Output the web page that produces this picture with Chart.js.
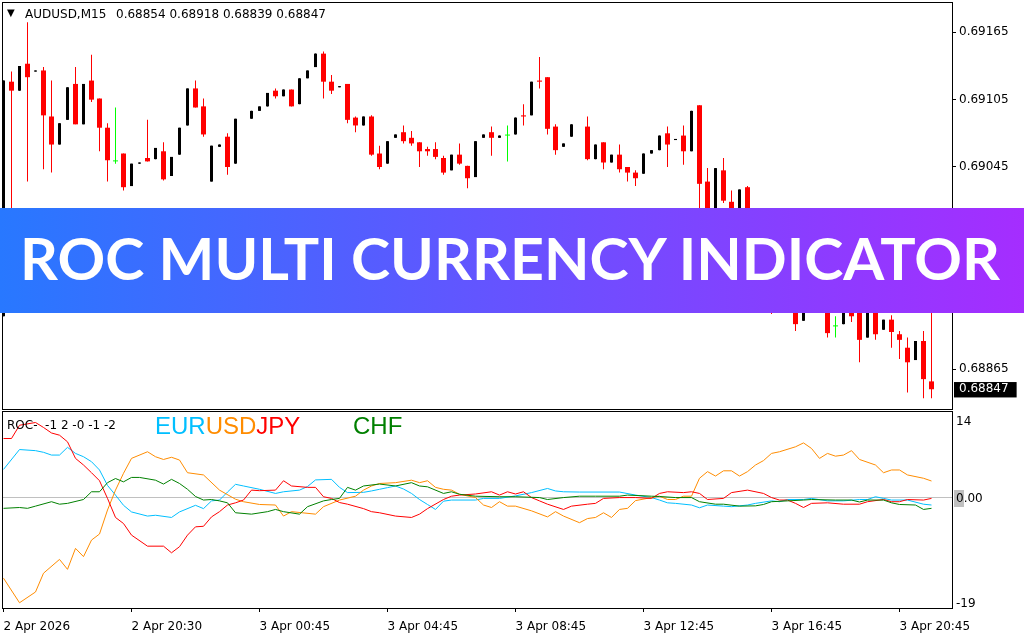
<!DOCTYPE html>
<html>
<head>
<meta charset="utf-8">
<script src="https://cdn.jsdelivr.net/npm/chart.js@4.4.1/dist/chart.umd.min.js"></script>
<style>
  html, body { margin:0; padding:0; background:#fff; }
  #wrap { position:relative; width:1024px; height:640px; overflow:hidden; background:#fff; }
  #main { position:absolute; left:0; top:0; }
  #sub { position:absolute; left:0; top:410px; }
  .txt { position:absolute; font-family:"DejaVu Sans", sans-serif; font-size:12px; line-height:14px; color:#000; white-space:pre; }
  .big { position:absolute; font-family:"Liberation Sans", Arial, sans-serif; font-size:24px; line-height:24px; white-space:pre; }
  #banner { position:absolute; left:0; top:208px; width:1024px; height:105px; background:linear-gradient(90deg,#2878FF 0%,#A52DFF 100%); z-index:10; overflow:hidden; }
  #btext { position:absolute; left:20px; top:21px; font-family:Lato, "Open Sans", sans-serif; font-weight:700; font-size:58px; line-height:58px; color:#fff; white-space:nowrap; transform-origin:0 0; }
</style>
</head>
<body>
<div id="wrap">
  <canvas id="main" width="1024" height="410"></canvas>
  <canvas id="sub" width="1024" height="230"></canvas>
  <div class="txt" style="left:7px;top:6px;font-size:10px;">▼</div>
  <div class="txt" id="sym" style="left:25px;top:7px;">AUDUSD,M15</div>
  <div class="txt" id="ohlc" style="left:116px;top:7px;"></div>
  <div class="txt" style="left:7px;top:418px;">ROC-  -1 2 -0 -1 -2</div>
  <div class="big" style="left:155px;top:414px;"><span style="color:#00BFFF">EUR</span><span style="color:#FF8C00">USD</span><span style="color:#FF0000">JPY</span></div>
  <div class="big" style="left:353px;top:414px;color:#008000">CHF</div>
  <div id="banner"><span id="btext">ROC MULTI CURRENCY INDICATOR</span></div>
</div>
<script>
// ---------------- DATA ----------------
const CANDLE_OPEN = [
 0.68912,0.69121,0.69113,0.69137,0.69130,0.69131,0.69090,0.69065,0.69087,0.69119,
 0.69083,0.69122,0.69106,0.69080,0.69050,0.69057,0.69028,0.69048,0.69053,0.69052,
 0.69059,0.69037,0.69056,0.69082,0.69115,0.69099,0.69032,0.69063,0.69072,0.69048,
 null,0.69088,0.69095,0.69099,0.69113,0.69108,0.69114,0.69101,0.69124,0.69134,
 0.69146,0.69121,0.69116,0.69119,0.69089,0.69082,0.69090,0.69057,0.69048,0.69071,
 0.69076,0.69071,0.69067,0.69061,0.69061,0.69053,0.69042,0.69056,0.69046,0.69036,
 0.69071,0.69076,0.69071,0.69073,0.69074,0.69091,0.69091,0.69122,0.69125,0.69081,
 0.69063,0.69072,null,0.69081,0.69052,0.69067,0.69049,0.69056,0.69045,0.69040,
 0.69039,0.69057,0.69060,0.69075,0.69069,0.69073,0.69059,0.69100,0.69032,0.68998,
 0.69042,0.69014,0.68986,0.69027,0.68975,0.68955,0.68968,0.68928,0.68950,0.68930,
 0.68908,0.68928,0.68918,0.68930,0.68903,0.68905,0.68925,0.68920,0.68893,0.68920,
 0.68900,0.68909,0.68896,0.68884,0.68873,0.68890,0.68854];
const CANDLE_HIGH = [
 0.69122,0.69130,0.69135,0.69174,0.69131,0.69134,0.69122,0.69084,0.69116,0.69134,
 0.69119,0.69145,0.69106,0.69084,0.69098,0.69057,0.69048,0.69049,0.69087,0.69062,
 0.69067,0.69054,0.69080,0.69115,0.69122,0.69106,0.69064,0.69065,0.69075,0.69088,
 null,0.69095,0.69099,0.69111,0.69115,0.69114,0.69114,0.69124,0.69131,0.69146,
 0.69148,0.69127,0.69117,0.69119,0.69090,0.69090,0.69091,0.69064,0.69068,0.69074,
 0.69082,0.69077,0.69067,0.69063,0.69067,0.69055,0.69056,0.69066,0.69046,0.69068,
 0.69074,0.69081,0.69073,0.69082,0.69089,0.69101,0.69121,0.69143,0.69125,0.69083,
 0.69066,0.69083,null,0.69090,0.69065,0.69067,0.69056,0.69065,0.69045,0.69042,
 0.69057,0.69060,0.69073,0.69081,0.69070,0.69082,0.69095,0.69100,0.69044,0.69044,
 0.69053,0.69024,0.69025,0.69028,0.68980,0.68972,0.68972,0.68955,0.68958,0.68935,
 0.68925,0.68932,0.68935,0.68935,0.68912,0.68930,0.68930,0.68925,0.68926,0.68924,
 0.68909,0.68913,0.68899,0.68893,0.68890,0.68899,0.68918];
const CANDLE_LOW = [
 0.68912,0.69003,0.69113,0.69032,0.69130,0.69043,0.69040,0.69065,0.69087,0.69083,
 0.69083,0.69103,0.69059,0.69032,0.69048,0.69024,0.69028,0.69048,0.69050,0.69052,
 0.69033,0.69037,0.69056,0.69082,0.69098,0.69072,0.69032,0.69063,0.69038,0.69048,
 null,0.69088,0.69095,0.69099,0.69106,0.69108,0.69099,0.69101,0.69124,0.69134,
 0.69106,0.69110,0.69116,0.69084,0.69076,0.69082,0.69055,0.69043,0.69048,0.69071,
 0.69066,0.69064,0.69045,0.69055,0.69052,0.69038,0.69042,0.69047,0.69026,0.69036,
 0.69071,0.69055,0.69071,0.69050,0.69074,0.69082,0.69091,0.69115,0.69074,0.69056,
 0.69063,0.69072,null,0.69051,0.69052,0.69043,0.69049,0.69040,0.69032,0.69028,
 0.69039,0.69057,0.69060,0.69045,0.69069,0.69047,0.69059,0.68989,0.68995,0.68990,
 0.69013,0.68978,0.68980,0.68968,0.68948,0.68950,0.68914,0.68925,0.68925,0.68899,
 0.68908,0.68915,0.68916,0.68893,0.68893,0.68905,0.68907,0.68871,0.68893,0.68891,
 0.68900,0.68884,0.68874,0.68844,0.68873,0.68839,0.68839];
const CANDLE_CLOSE = [
 0.69122,0.69113,0.69135,0.69125,0.69131,0.69091,0.69065,0.69084,0.69116,0.69083,
 0.69119,0.69105,0.69080,0.69051,0.69050,0.69027,0.69048,0.69049,0.69050,0.69062,
 0.69034,0.69054,0.69080,0.69115,0.69098,0.69074,0.69064,0.69065,0.69045,0.69088,
 null,0.69095,0.69099,0.69111,0.69108,0.69114,0.69099,0.69124,0.69131,0.69146,
 0.69121,0.69113,0.69117,0.69087,0.69082,0.69090,0.69056,0.69045,0.69068,0.69074,
 0.69068,0.69066,0.69059,0.69059,0.69054,0.69040,0.69056,0.69048,0.69035,0.69068,
 0.69074,0.69071,0.69073,0.69073,0.69089,0.69090,0.69121,0.69121,0.69079,0.69060,
 0.69066,0.69083,null,0.69052,0.69065,0.69049,0.69056,0.69043,0.69040,0.69035,
 0.69057,0.69060,0.69073,0.69065,0.69070,0.69059,0.69095,0.69030,0.69000,0.69044,
 0.69015,0.68985,0.69025,0.68975,0.68955,0.68968,0.68925,0.68950,0.68930,0.68905,
 0.68925,0.68918,0.68932,0.68897,0.68903,0.68925,0.68912,0.68891,0.68922,0.68896,
 0.68909,0.68898,0.68891,0.68871,0.68890,0.68856,0.68847];

const PRICE_TICKS = [0.69165, 0.69105, 0.69045, 0.68985, 0.68925, 0.68865];
const LAST_PRICE = 0.68847;

const TIME_TICK_BARS = [0, 16, 32, 48, 64, 80, 96, 112];
const TIME_LABELS = ['2 Apr 2026','2 Apr 20:30','3 Apr 00:45','3 Apr 04:45','3 Apr 08:45','3 Apr 12:45','3 Apr 16:45','3 Apr 20:45'];

const ROC_TICKS = [14, 0, -19];

// [bar index, ROC value]
const ROC_EUR = [[0,5.1],[2,8.7],[4,8.5],[5,8.2],[6,7.7],[7,7.7],[8,9.1],[9,8.0],[10,7.4],[11,6.5],[12,5.0],[13,2.2],[14,0.45],[15,-1.4],[16,-2.6],[18,-3.35],[19,-3.2],[21,-3.6],[22,-2.6],[24,-1.4],[25,-2.0],[26,-0.6],[27,-0.45],[28,1.0],[29,2.4],[30,2.1],[32,1.5],[34,0.75],[35,1.05],[37,1.35],[38,2.0],[39,3.2],[41,3.3],[42,1.85],[43,0.9],[45,0.95],[46,1.2],[47,1.5],[48,1.8],[49,2.1],[50,1.55],[51,0.75],[52,-0.35],[53,-1.25],[54,-2.15],[55,-0.65],[56,-0.45],[59,-0.45],[60,-0.15],[62,-0.15],[64,0.3],[66,0.9],[68,1.65],[69,1.2],[70,1.05],[72,1.0],[77,1.0],[79,0.45],[81,0],[82,-0.45],[83,-0.95],[84,-1.05],[86,-1.35],[87,-1.85],[88,-1.35],[90,-1.55],[91,-1.65],[93,-1.35],[94,-1.05],[96,-0.6],[97,-0.75],[98,-0.35],[100,-0.35],[101,-0.15],[103,-0.6],[105,-0.6],[107,-0.35],[108,-0.35],[109,0.15],[110,-0.15],[111,-0.45],[113,-0.45],[115,-1.2],[116,-1.35]];
const ROC_USD = [[0,-14.6],[2,-19.05],[4,-17.1],[5,-13.7],[7,-11.2],[8,-13.0],[9,-9.2],[10,-10.7],[11,-7.7],[12,-6.6],[13,-2.25],[14,1.35],[15,4.4],[16,7.1],[18,8.3],[19,7.4],[20,6.9],[21,7.3],[22,6.8],[23,4.5],[25,4.1],[27,1.35],[29,-0.3],[30,-0.75],[32,-1.25],[34,-1.35],[35,-3.35],[36,-2.55],[39,-3.0],[40,-1.65],[42,-0.45],[44,0.25],[45,1.35],[46,2.1],[47,2.55],[49,2.7],[51,3.15],[52,2.7],[53,3.05],[54,1.85],[55,1.5],[56,1.35],[57,0.6],[59,0],[60,-1.35],[61,-1.8],[62,-0.75],[63,-1.55],[64,-1.55],[66,-2.4],[68,-3.5],[69,-2.55],[70,-3.35],[72,-4.55],[73,-3.8],[74,-3.6],[75,-2.75],[76,-3.6],[77,-2.15],[78,-1.95],[79,-0.55],[81,0],[82,0.25],[83,-0.35],[84,-0.35],[85,0.25],[86,0.25],[87,3.5],[88,4.7],[89,3.9],[90,4.85],[91,4.85],[92,3.9],[93,4.7],[94,5.9],[95,6.7],[96,8.0],[97,8.3],[99,9.2],[100,9.9],[101,8.9],[102,7.1],[103,8.0],[104,7.5],[105,7.7],[106,8.5],[107,6.9],[109,5.9],[110,4.5],[111,5.0],[112,5.0],[113,4.1],[115,3.5],[116,3.0]];
const ROC_JPY = [[0,10.7],[1,10.7],[2,13.1],[4,13.6],[5,12.7],[6,11.7],[7,11.3],[8,10.1],[9,7.1],[10,5.9],[11,4.5],[12,3.05],[13,-0.15],[14,-3.6],[15,-4.7],[16,-6.8],[18,-8.8],[20,-8.8],[21,-10.0],[22,-8.9],[23,-6.8],[24,-5.3],[25,-5.2],[26,-3.5],[27,-2.55],[28,-1.35],[29,-0.95],[30,-0.45],[31,1.35],[32,1.25],[34,1.35],[35,3.05],[36,2.1],[38,1.85],[39,1.85],[40,0.15],[41,-0.15],[42,-0.9],[43,-1.2],[45,-2.0],[46,-2.55],[47,-2.75],[49,-3.35],[51,-3.6],[52,-3.0],[53,-2.0],[55,-0.35],[56,0.25],[57,0.45],[59,0.65],[61,1.05],[62,0.45],[63,1.05],[64,0.65],[65,1.05],[66,0],[67,-0.6],[68,-1.2],[70,-2.15],[71,-1.55],[73,-1.2],[74,-1.05],[75,-0.15],[77,0],[79,0],[81,-0.15],[82,0.75],[83,1.05],[85,0.9],[86,1.05],[87,0.75],[88,-0.35],[90,-0.15],[91,0.9],[93,1.35],[95,0.75],[96,0],[97,-0.45],[98,-0.45],[99,-1.05],[100,-1.8],[101,-1.05],[103,-0.95],[105,-1.2],[107,-1.2],[108,-0.75],[110,-0.35],[111,-0.75],[112,-0.75],[113,-0.35],[115,-0.45],[116,-0.15]];
const ROC_CHF = [[0,-1.95],[2,-1.8],[3,-1.95],[4,-1.55],[6,-0.75],[7,-1.2],[8,-1.05],[10,-0.35],[11,1.05],[12,1.05],[13,2.7],[14,3.45],[15,2.85],[16,3.65],[17,3.65],[19,3.15],[20,2.45],[21,3.3],[22,2.55],[23,1.5],[24,0.2],[25,-0.45],[26,-0.35],[27,-0.6],[28,-0.95],[29,-2.75],[31,-3.0],[33,-2.55],[34,-2.15],[35,-2.55],[37,-3.0],[38,-1.65],[40,-0.6],[41,-0.35],[42,-0.15],[43,1.85],[44,1.35],[45,2.1],[47,2.45],[49,2.1],[51,2.7],[52,2.1],[53,1.95],[55,0.75],[56,1.05],[57,0.6],[59,0.25],[62,0.15],[64,0.15],[67,0],[68,-0.35],[70,0],[72,0.25],[74,0.25],[77,0.25],[78,0.45],[81,0.25],[82,0.2],[84,0],[86,0],[87,-0.75],[89,-1.2],[90,-1.2],[92,-1.55],[94,-1.5],[95,-1.25],[96,-0.75],[98,-0.6],[100,-0.45],[101,-0.35],[104,-0.45],[106,-0.45],[107,-0.8],[108,-0.45],[110,-0.45],[111,-0.95],[112,-1.25],[114,-1.35],[115,-2.15],[116,-1.95]];

// ---------------- BUILD ----------------
const N = CANDLE_OPEN.length;
document.getElementById('ohlc').textContent =
  [CANDLE_OPEN[N-1], CANDLE_HIGH[N-1], CANDLE_LOW[N-1], CANDLE_CLOSE[N-1]].map(v => v.toFixed(5)).join(' ');

const KIND_COLOR = { bear: '#FF0000', bull: '#000000', doji: '#00FF00' };
const wickData = [], bearData = [], bullData = [], dojiData = [];
for (let i = 0; i < N; i++) {
  const o = CANDLE_OPEN[i], h = CANDLE_HIGH[i], l = CANDLE_LOW[i], c = CANDLE_CLOSE[i];
  if (o == null) continue;
  const kind = c < o ? 'bear' : (c > o ? 'bull' : 'doji');
  wickData.push({ x: i, y: [l, h], kind });
  const body = { x: i, y: [o, c] };
  if (kind === 'bear') bearData.push(body);
  else if (kind === 'bull') bullData.push(body);
  else dojiData.push(body);
}

const FONT = { family: 'DejaVu Sans', size: 12 };
const X_MIN = -0.0625, X_MAX = 118.5625;
const CLEAR = 'rgba(0,0,0,0)';

const framePlugin = {
  id: 'frame',
  afterDraw(chart) {
    const { ctx, chartArea: a } = chart;
    ctx.save();
    ctx.strokeStyle = '#000';
    ctx.lineWidth = 1;
    ctx.strokeRect(a.left - 0.5, a.top - 0.5, a.right - a.left + 1, a.bottom - a.top + 1);
    ctx.restore();
  }
};

new Chart(document.getElementById('main'), {
  type: 'bar',
  data: {
    datasets: [
      { label: 'bear', data: bearData, backgroundColor: KIND_COLOR.bear, barThickness: 5, minBarLength: 1, order: 0 },
      { label: 'bull', data: bullData, backgroundColor: KIND_COLOR.bull, barThickness: 3, minBarLength: 1, order: 0 },
      { label: 'doji', data: dojiData, backgroundColor: KIND_COLOR.doji, barThickness: 5, minBarLength: 1, order: 0 },
      { label: 'wick', data: wickData, backgroundColor: c => KIND_COLOR[c.raw ? c.raw.kind : 'bull'], barThickness: 1, order: 1 }
    ]
  },
  options: {
    responsive: false, animation: false, devicePixelRatio: 1,
    datasets: { bar: { grouped: false, borderWidth: 0, inflateAmount: 0 } },
    layout: { padding: { left: 3, top: 3, right: 0, bottom: 1 } },
    plugins: { legend: { display: false }, tooltip: { enabled: false } },
    scales: {
      x: { type: 'linear', min: X_MIN, max: X_MAX, offset: false, display: false },
      y: {
        position: 'right', min: 0.688294, max: 0.691911,
        afterBuildTicks: s => { s.ticks = PRICE_TICKS.concat([LAST_PRICE]).map(v => ({ value: v })); },
        afterFit: s => { s.width = 72; s.paddingTop = 0; s.paddingBottom = 0; },
        grid: { drawOnChartArea: false, drawTicks: true, tickLength: 4,
                tickColor: c => (c.tick && c.tick.value === LAST_PRICE) ? CLEAR : '#000' },
        border: { display: false },
        ticks: {
          autoSkip: false, padding: 3, font: FONT,
          color: c => (c.tick && c.tick.value === LAST_PRICE) ? '#FFFFFF' : '#000000',
          showLabelBackdrop: true,
          backdropColor: c => (c.tick && c.tick.value === LAST_PRICE) ? '#000000' : CLEAR,
          backdropPadding: { top: 0, bottom: 1, left: 5, right: 8 },
          callback: v => Number(v).toFixed(5)
        }
      }
    }
  },
  plugins: [framePlugin]
});

const levelBox = {
  id: 'levelBox',
  beforeDraw(chart) {
    const { ctx, chartArea: a } = chart;
    const py = chart.scales.y.getPixelForValue(0);
    ctx.save();
    ctx.fillStyle = '#C0C0C0';
    ctx.fillRect(a.right + 2, Math.round(py) - 8, 10, 17);
    ctx.restore();
  }
};

const toPts = arr => arr.map(([x, y]) => ({ x, y }));

new Chart(document.getElementById('sub'), {
  type: 'line',
  data: {
    datasets: [
      { label: 'EUR', data: toPts(ROC_EUR), borderColor: '#00BFFF', order: 4 },
      { label: 'USD', data: toPts(ROC_USD), borderColor: '#FF8C00', order: 3 },
      { label: 'JPY', data: toPts(ROC_JPY), borderColor: '#FF0000', order: 2 },
      { label: 'CHF', data: toPts(ROC_CHF), borderColor: '#008000', order: 1 }
    ]
  },
  options: {
    responsive: false, animation: false, devicePixelRatio: 1,
    elements: { line: { borderWidth: 1, tension: 0, fill: false }, point: { radius: 0, hoverRadius: 0 } },
    layout: { padding: { left: 3, top: 2, right: 0, bottom: 0 } },
    plugins: { legend: { display: false }, tooltip: { enabled: false } },
    scales: {
      x: {
        type: 'linear', min: X_MIN, max: X_MAX, offset: false, position: 'bottom',
        afterBuildTicks: s => { s.ticks = TIME_TICK_BARS.map(v => ({ value: v })); },
        afterFit: s => { s.height = 32; s.paddingLeft = 0; s.paddingRight = 0; },
        grid: { drawOnChartArea: false, drawTicks: true, tickLength: 4, color: '#000', tickColor: '#000' },
        border: { display: false },
        ticks: {
          autoSkip: false, maxRotation: 0, minRotation: 0, align: 'start', padding: 8,
          font: FONT, color: '#000',
          callback: v => TIME_LABELS[TIME_TICK_BARS.indexOf(v)]
        }
      },
      y: {
        position: 'right', min: -20, max: 15.5,
        afterBuildTicks: s => { s.ticks = ROC_TICKS.map(v => ({ value: v })); },
        afterFit: s => { s.width = 72; s.paddingTop = 0; s.paddingBottom = 0; },
        grid: { drawOnChartArea: true, drawTicks: true, tickLength: 4,
                color: c => (c.tick && c.tick.value === 0) ? '#C0C0C0' : CLEAR,
                tickColor: CLEAR },
        border: { display: false },
        ticks: {
          autoSkip: false, padding: 0, labelOffset: 1.5, font: FONT, color: '#000',
          callback: v => v === 0 ? '0.00' : String(v)
        }
      }
    }
  },
  plugins: [levelBox, framePlugin]
});

// fit banner title to its width
const bt = document.getElementById('btext');
const bw = bt.getBoundingClientRect().width;
if (bw > 0) bt.style.transform = 'scaleX(' + (980 / bw) + ')';
</script>
</body>
</html>
